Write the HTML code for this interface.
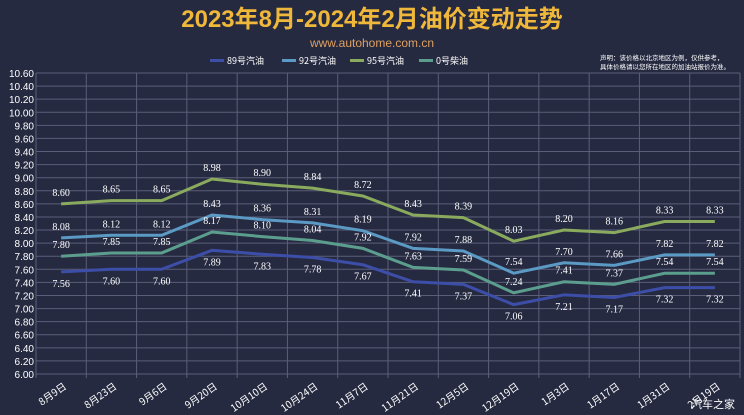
<!DOCTYPE html>
<html><head><meta charset="utf-8"><style>
body{margin:0;width:744px;height:415px;overflow:hidden;background:#262a40;font-family:"Liberation Sans","Noto Sans CJK SC",sans-serif}
svg{display:block}
</style></head><body>
<svg id="chart" width="744" height="415" xmlns="http://www.w3.org/2000/svg">
<rect width="744" height="415" fill="#262a40"/>
<text x="372" y="27" text-anchor="middle" font-size="24" font-weight="bold" fill="#f0b83a" font-family="Liberation Sans,Noto Sans CJK SC,sans-serif">2023年8月-2024年2月油价变动走势</text>
<text x="372" y="47" text-anchor="middle" font-size="12" fill="#e0a060">www.autohome.com.cn</text>
<text x="600" y="60" font-size="6.5" fill="#fff" font-family="Noto Sans CJK SC,sans-serif">声明：该价格以北京地区为例，仅供参考，</text>
<text x="600" y="69" font-size="6.5" fill="#fff" font-family="Noto Sans CJK SC,sans-serif">具体价格请以您所在地区的加油站报价为准。</text>
<g id="grid"></g><g id="legend"></g><g id="series"></g>
<text x="735" y="408" text-anchor="end" font-size="11" fill="#fff" font-family="Noto Sans CJK SC,sans-serif">汽车之家</text>
</svg>
<script>
const categories=["8月9日","8月23日","9月6日","9月20日","10月10日","10月24日","11月7日","11月21日","12月5日","12月19日","1月3日","1月17日","1月31日","2月19日"];
const seriesNames=["89号汽油","92号汽油","95号汽油","0号柴油"];
const s89=[7.56,7.60,7.60,7.89,7.83,7.78,7.67,7.41,7.37,7.06,7.21,7.17,7.32,7.32];
const s92=[8.08,8.12,8.12,8.43,8.36,8.31,8.19,7.92,7.88,7.54,7.70,7.66,7.82,7.82];
const s95=[8.60,8.65,8.65,8.98,8.90,8.84,8.72,8.43,8.39,8.03,8.20,8.16,8.33,8.33];
const s0=[7.80,7.85,7.85,8.17,8.10,8.04,7.92,7.63,7.59,7.24,7.41,7.37,7.54,7.54];
const yTicks=[6.0,6.2,6.4,6.6,6.8,7.0,7.2,7.4,7.6,7.8,8.0,8.2,8.4,8.6,8.8,9.0,9.2,9.4,9.6,9.8,10.0,10.2,10.4,10.6];
const NS="http://www.w3.org/2000/svg";
const L=36,R=740,T=73,B=374,ymin=6,ymax=10.6;
const bw=(R-L)/categories.length;
const x=i=>L+bw*(i+0.5);
const y=v=>B-(v-ymin)/(ymax-ymin)*(B-T);
function mk(t,a,p){const e=document.createElementNS(NS,t);for(const k in a)e.setAttribute(k,a[k]);p.appendChild(e);return e;}
const g=document.getElementById('grid');
yTicks.forEach(v=>{
 const l=mk('line',{x1:L,x2:R,y1:y(v),y2:y(v),stroke:'#5a5e78','stroke-width':1},g);
 
 
 const t=mk('text',{x:L-2,y:y(v)+4,'text-anchor':'end','font-size':10,fill:'#fff'},g);
 t.textContent=v.toFixed(2);
 
 
});
for(let i=0;i<=categories.length;i++){
 const l=mk('line',{x1:L+bw*i,x2:L+bw*i,y1:T,y2:B+4,stroke:'#5a5e78','stroke-width':1},g);
 
 
}
categories.forEach((c,i)=>{
 const t=mk('text',{x:x(i)+6,y:B+14,'text-anchor':'end','font-size':10,fill:'#fff',transform:`rotate(-35 ${x(i)+6} ${B+14})`,'font-family':'Noto Sans CJK SC,sans-serif'},g);
 t.textContent=c;
 
 
});
const colors=["#3d4ea8","#5a9ac4","#8aaa5e","#5c9e8e"];
const data=[s89,s92,s95,s0];
const lg=document.getElementById('legend');
const lx=[210,282,350,419];
seriesNames.forEach((n,i)=>{
 const r=mk('rect',{x:lx[i],y:59,width:14,height:3,fill:colors[i]},lg);
 
 
 const t=mk('text',{x:lx[i]+17,y:64,'font-size':9,fill:'#fff','font-family':'Noto Sans CJK SC,sans-serif'},lg);
 t.textContent=n;
 
 
});
const sg=document.getElementById('series');
data.forEach((d,si)=>{
 const p=mk('polyline',{points:d.map((v,i)=>x(i)+','+y(v)).join(' '),fill:'none',stroke:colors[si],'stroke-width':3},sg);
 
 
 d.forEach((v,i)=>{
  const below=si===0;
  const t=mk('text',{x:x(i),y:below?y(v)+15:y(v)-8,'text-anchor':'middle','font-size':10,fill:'#fff','font-family':'Liberation Serif,serif'},sg);
  t.textContent=v.toFixed(2);
  
  
 });
});
</script>
</body></html>
